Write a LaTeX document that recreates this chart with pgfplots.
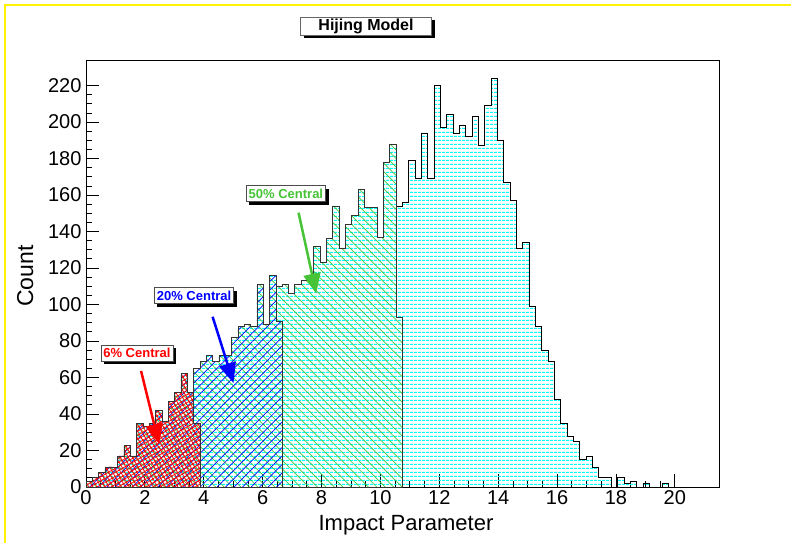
\documentclass[border=0pt]{standalone}
\usepackage{pgfplots}
\pgfplotsset{compat=1.18}
\usepackage{pgfplotstable}
\usepackage{fontspec}
\setmainfont{Liberation Sans}
\usetikzlibrary{patterns,patterns.meta,shadows,arrows.meta}
\definecolor{rootgreen}{RGB}{70,195,55}
\definecolor{rootcyan}{RGB}{0,255,255}

% full histogram: bin left edge, count (bin width 0.215)
\pgfplotstableread{
x y
0 3
0.215 5
0.43 8
0.645 11
0.86 11
1.075 17
1.29 23
1.505 17
1.72 35
1.935 33
2.15 35
2.365 42
2.58 36
2.795 47
3.01 52
3.225 62
3.44 52
3.655 65
3.87 69
4.085 72
4.3 69
4.515 72
4.73 72
4.945 82
5.16 88
5.375 89
5.59 88
5.805 111
6.02 89
6.235 116
6.45 110
6.665 111
6.88 106
7.095 111
7.31 113
7.525 113
7.74 132
7.955 123
8.17 136
8.385 154
8.6 131
8.815 144
9.03 149
9.245 163
9.46 153
9.675 153
9.89 137
10.105 178
10.32 188
10.535 154
10.75 156
10.965 179
11.18 169
11.395 194
11.61 169
11.825 220
12.04 197
12.255 204
12.47 194
12.685 198
12.9 192
13.115 203
13.33 187
13.545 209
13.76 224
13.975 190
14.19 167
14.405 157
14.62 131
14.835 134
15.05 99
15.265 88
15.48 75
15.695 69
15.91 48
16.125 35
16.34 28
16.555 25
16.77 15
16.985 17
17.2 11
17.415 5
17.63 5
17.845 0
18.06 5
18.275 2
18.49 3
18.705 0
18.92 2
19.135 0
19.35 0
19.565 2
19.78 0
19.995 0
}\fullhist

% 50% central
\pgfplotstableread{
x y
0 3
0.215 5
0.43 8
0.645 11
0.86 11
1.075 17
1.29 23
1.505 17
1.72 35
1.935 33
2.15 35
2.365 42
2.58 36
2.795 47
3.01 52
3.225 62
3.44 52
3.655 65
3.87 69
4.085 72
4.3 69
4.515 72
4.73 72
4.945 82
5.16 88
5.375 89
5.59 88
5.805 111
6.02 89
6.235 116
6.45 110
6.665 111
6.88 106
7.095 111
7.31 113
7.525 113
7.74 132
7.955 123
8.17 136
8.385 154
8.6 131
8.815 144
9.03 149
9.245 163
9.46 153
9.675 153
9.89 137
10.105 178
10.32 188
10.535 93
10.75 93
}\halfhist

% 20% central
\pgfplotstableread{
x y
0 3
0.215 5
0.43 8
0.645 11
0.86 11
1.075 17
1.29 23
1.505 17
1.72 35
1.935 33
2.15 35
2.365 42
2.58 36
2.795 47
3.01 52
3.225 62
3.44 52
3.655 65
3.87 69
4.085 72
4.3 69
4.515 72
4.73 72
4.945 82
5.16 88
5.375 89
5.59 88
5.805 111
6.02 89
6.235 116
6.45 91
6.665 91
}\twentyhist

% 6% central
\pgfplotstableread{
x y
0 3
0.215 5
0.43 8
0.645 11
0.86 11
1.075 17
1.29 23
1.505 17
1.72 35
1.935 33
2.15 35
2.365 42
2.58 36
2.795 47
3.01 52
3.225 62
3.44 52
3.655 35
3.87 35
}\sixhist

\begin{document}
\begin{tikzpicture}[x=1pt,y=1pt]
\useasboundingbox (0,0) rectangle (791,543);
\fill[white] (0,0) rectangle (791,543);
\draw[yellow, line width=2pt] (5,0) -- (5,538) -- (791,538);

\begin{axis}[
  at={(86pt,56pt)}, anchor=south west,
  width=633pt, height=427pt, scale only axis,
  xmin=0, xmax=21.5, ymin=0, ymax=234,
  axis line style={black, line width=0.8pt},
  xtick={0,2,...,20}, ytick={0,20,...,220},
  minor x tick num=3, minor y tick num=3,
  tick align=inside, xtick pos=lower, ytick pos=left,
  major tick length=13pt, minor tick length=6pt,
  tick style={black, line width=0.8pt},
  /pgf/number format/assume math mode=true,
  tick label style={font=\fontsize{20}{20}\selectfont},
  xticklabel style={yshift=0pt},
  yticklabel style={xshift=-1pt},
  clip=true,
]
\addplot[const plot, draw=black, line width=0.8pt,
  pattern={Lines[angle=0,distance=4pt,line width=1.3pt]}, pattern color=rootcyan]
  table[x=x,y=y]{\fullhist} \closedcycle;
\addplot[const plot, draw=black!80, line width=0.8pt,
  pattern={Lines[angle=-45,distance=6pt,line width=0.7pt]}, pattern color=rootgreen]
  table[x=x,y=y]{\halfhist} \closedcycle;
\addplot[const plot, draw=black!80, line width=0.8pt,
  pattern={Lines[angle=45,distance=6pt,line width=0.7pt]}, pattern color=blue]
  table[x=x,y=y]{\twentyhist} \closedcycle;
\addplot[const plot, draw=black!80, line width=0.8pt,
  pattern={Hatch[angle=30,distance=3.5pt,line width=0.8pt]}, pattern color=red]
  table[x=x,y=y]{\sixhist} \closedcycle;

% annotations
\draw[red, line width=2.5pt, -{Triangle[length=20pt,width=17pt]}] (axis cs:1.87,63.6) -- (axis cs:2.48,23.6);
\draw[blue, line width=2.5pt, -{Triangle[length=20pt,width=17pt]}] (axis cs:4.30,93.3) -- (axis cs:5.01,57.0);
\draw[rootgreen, line width=2.5pt, -{Triangle[length=20pt,width=17pt]}] (axis cs:7.22,150.3) -- (axis cs:7.82,106.0);

\node[fill=white, draw=black!70, line width=0.6pt, inner sep=2.5pt, minimum height=16pt,
  drop shadow={opacity=1, fill=black, shadow xshift=3pt, shadow yshift=-3pt},
  font=\bfseries\fontsize{13}{13}\selectfont, text=red] at (axis cs:1.73,73.5) {6\% Central};
\node[fill=white, draw=black!70, line width=0.6pt, inner sep=2.5pt, minimum height=16pt,
  drop shadow={opacity=1, fill=black, shadow xshift=3pt, shadow yshift=-3pt},
  font=\bfseries\fontsize{13}{13}\selectfont, text=blue] at (axis cs:3.67,104.8) {20\% Central};
\node[fill=white, draw=black!70, line width=0.6pt, inner sep=2.5pt, minimum height=16pt,
  drop shadow={opacity=1, fill=black, shadow xshift=3pt, shadow yshift=-3pt},
  font=\bfseries\fontsize{13}{13}\selectfont, text=rootgreen] at (axis cs:6.79,160.7) {50\% Central};
\end{axis}

% title box
\node[fill=white, draw=black!60, line width=0.6pt, minimum width=131pt, minimum height=18pt, inner sep=1pt,
  drop shadow={opacity=1, fill=black, shadow xshift=3pt, shadow yshift=-3pt},
  font=\bfseries\fontsize{16}{16}\selectfont] at (366,517) {Hijing Model};

% axis titles
\node[anchor=base, font=\fontsize{22}{22}\selectfont] at (406,13) {Impact Parameter};
\node[anchor=base, rotate=90, font=\fontsize{23}{23}\selectfont] at (33,267) {Count};
\end{tikzpicture}
\end{document}
